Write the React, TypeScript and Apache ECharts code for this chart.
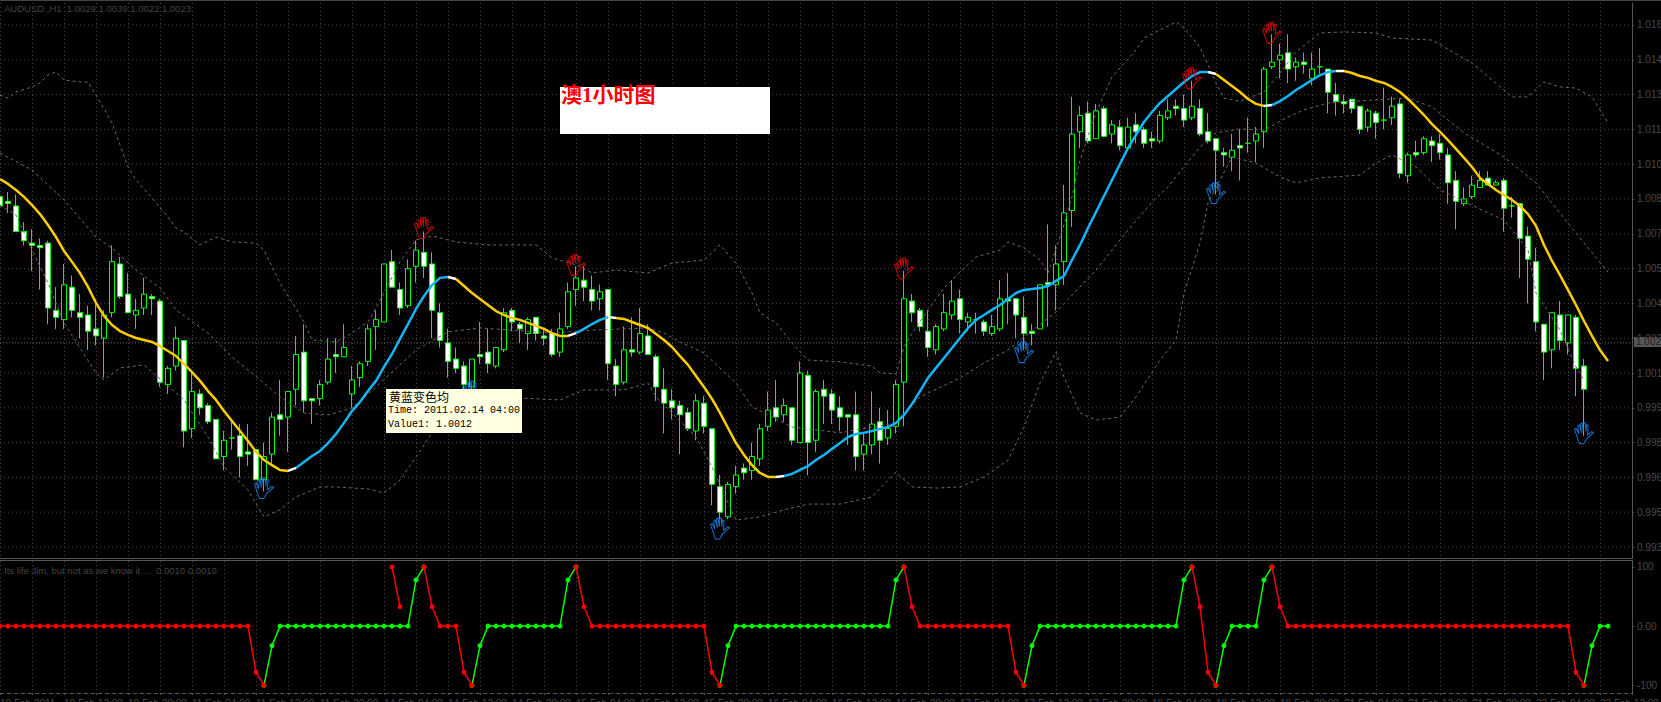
import React, { useEffect, useRef } from "react";
import * as echarts from "echarts";

// ---------- price axis ----------
const yTicks = [0.9935,0.995,0.9965,0.998,0.9995,1.001,1.0025,1.004,1.0055,1.007,1.0085,1.01,1.0115,1.013,1.0145,1.016];
const lastPrice = 1.0023;

// ---------- time axis (one label every 8 hourly bars) ----------
const timeLabels = ["10 Feb 2011","10 Feb 12:00","10 Feb 20:00","11 Feb 04:00","11 Feb 12:00","11 Feb 20:00","14 Feb 04:00","14 Feb 12:00","14 Feb 20:00","15 Feb 04:00","15 Feb 12:00","15 Feb 20:00","16 Feb 04:00","16 Feb 12:00","16 Feb 20:00","17 Feb 04:00","17 Feb 12:00","17 Feb 20:00","18 Feb 04:00","18 Feb 12:00","18 Feb 20:00","21 Feb 04:00","21 Feb 12:00","21 Feb 20:00","22 Feb 04:00","22 Feb 12:00"];

// ---------- candles ----------
const opens = [1.0086,1.0084,1.0082,1.0071,1.0066,1.0065,1.0066,1.0037,1.0033,1.0047,
1.0036,1.0035,1.0029,1.0025,1.0036,1.0057,1.0044,1.0035,1.0038,1.0043,
1.0041,1.0005,1.0013,1.0024,0.9986,1.0001,0.9996,0.999,0.9974,0.9982,
0.9983,0.9976,0.9977,0.9964,0.9975,0.9992,0.9991,1.0003,1.0019,0.9999,
0.9999,1.0006,1.0018,1.0017,1.0001,1.0008,1.0015,1.003,1.0032,1.0058,
1.0046,1.0039,1.0056,1.0062,1.0057,1.0036,1.0023,1.0016,1.0013,1.0004,
1.0018,1.0019,1.0013,1.002,1.0037,1.0031,1.0027,1.0034,1.0026,1.0027,
1.0019,1.003,1.0046,1.005,1.0046,1.0042,1.0046,1.0013,1.0006,1.002,
1.0019,1.0026,1.0017,1.0003,0.9998,0.9996,0.9993,0.9985,0.9997,0.9986,
0.9961,0.9948,0.9961,0.9969,0.9968,0.9973,0.9987,0.9995,0.9992,0.9995,
0.998,1.0009,0.9981,1.0003,1.0001,0.9995,0.9992,0.9992,0.9975,0.9979,
0.9989,0.9982,0.9987,1.0006,1.0041,1.0037,1.0028,1.002,1.0029,1.0035,
1.0042,1.0032,1.0033,1.0032,1.0027,1.0029,1.0042,1.0042,1.0034,1.0028,
1.0029,1.0049,1.0048,1.0058,1.008,1.0114,1.0122,1.0111,1.0124,1.0113,
1.0116,1.0107,1.0117,1.0115,1.0111,1.011,1.012,1.0125,1.0124,1.012,
1.0124,1.0114,1.0111,1.0105,1.0103,1.0108,1.0109,1.011,1.0114,1.0142,
1.0145,1.0148,1.0142,1.0144,1.0137,1.0142,1.0141,1.013,1.0127,1.0128,
1.0125,1.0116,1.0122,1.0119,1.012,1.0126,1.0095,1.0105,1.0105,1.011,
1.0109,1.0104,1.0093,1.0083,1.0086,1.009,1.0094,1.0091,1.0093,1.0082,
1.0083,1.0069,1.0058,1.0031,1.002,1.0035,1.0023,1.0034,1.0013];
const highs = [1.0087,1.0088,1.0087,1.0075,1.0072,1.0068,1.0067,1.0047,1.0057,1.0052,
1.0044,1.0039,1.0042,1.0037,1.0065,1.006,1.0053,1.0042,1.0051,1.0044,
1.0042,1.0013,1.003,1.0024,1.0011,1.0003,0.9997,0.999,0.9985,0.999,
0.9988,0.9988,0.9977,0.998,0.9993,1.0007,1.0002,1.0026,1.0031,0.9999,
1.0007,1.0025,1.0025,1.0031,1.0013,1.0015,1.0031,1.0037,1.0057,1.0063,
1.0049,1.0059,1.0067,1.0071,1.0062,1.004,1.0029,1.0021,1.0015,1.0016,
1.0032,1.0029,1.0021,1.0038,1.0038,1.0032,1.0034,1.0034,1.0029,1.0029,
1.0036,1.0049,1.0056,1.0056,1.0052,1.0048,1.0046,1.0016,1.003,1.0034,
1.0038,1.0031,1.0018,1.0012,1.0003,0.9998,0.9995,1.0001,1.0,0.9986,
0.9966,0.9963,0.997,0.9971,0.998,0.9988,1.0002,1.0007,0.9999,0.9995,
1.0015,1.0011,1.0003,1.0007,1.0003,1.0,0.9992,1.0002,0.9984,1.0002,
0.9995,0.9994,1.0007,1.0054,1.0044,1.0038,1.0037,1.0031,1.0044,1.005,
1.0046,1.0036,1.0036,1.0033,1.0035,1.005,1.0053,1.0042,1.0043,1.0031,
1.0048,1.0074,1.0065,1.0091,1.0129,1.0125,1.0127,1.0126,1.0125,1.0119,
1.0119,1.012,1.0122,1.0116,1.0114,1.0123,1.0128,1.0128,1.013,1.0136,
1.0128,1.0122,1.0111,1.0107,1.0113,1.0115,1.012,1.0116,1.0142,1.0156,
1.0152,1.0156,1.0146,1.0148,1.0148,1.015,1.0141,1.0135,1.013,1.0128,
1.0125,1.0124,1.0123,1.0133,1.0129,1.0128,1.0105,1.011,1.0112,1.0112,
1.0113,1.0107,1.0097,1.009,1.0095,1.0097,1.0097,1.0093,1.0094,1.0086,
1.0083,1.0073,1.0064,1.0031,1.0036,1.0041,1.0035,1.0035,1.0016];
const lows = [1.0072,1.0079,1.0071,1.0065,1.0054,1.0046,1.0031,1.0029,1.0029,1.0034,
1.0025,1.002,1.0022,1.0008,1.0034,1.0042,1.0036,1.0029,1.0035,1.0035,
1.0004,1.0001,1.0011,0.9978,0.9982,0.9992,0.9988,0.9973,0.9968,0.9977,
0.9965,0.997,0.9964,0.9959,0.997,0.9983,0.9976,0.9996,0.9993,0.9988,
0.9996,1.0005,1.001,1.0017,0.9995,1.0004,1.0013,1.002,1.0032,1.0047,
1.0035,1.0038,1.0049,1.0051,1.0025,1.0021,1.0008,1.001,1.0003,1.0003,
1.0014,1.001,1.0012,1.0019,1.0028,1.0023,1.002,1.0024,1.0022,1.0017,
1.0017,1.0029,1.0039,1.0041,1.0037,1.0037,1.0007,1.0,1.0005,1.0017,
1.0018,1.0018,0.9998,0.9984,0.999,0.9975,0.9985,0.9981,0.9984,0.9953,
0.9947,0.9947,0.9958,0.9964,0.9964,0.997,0.9985,0.9989,0.9989,0.9979,
0.998,0.9966,0.9976,0.9988,0.9988,0.9985,0.9979,0.9968,0.9968,0.9975,
0.9971,0.9979,0.9984,0.9987,1.0032,1.0028,1.0017,1.0018,1.0028,1.0033,
1.0027,1.0028,1.0027,1.0026,1.0026,1.0028,1.0031,1.0025,1.002,1.0022,
1.0029,1.003,1.0037,1.0048,1.0073,1.0107,1.0109,1.0111,1.0112,1.0109,
1.0106,1.0107,1.0109,1.0107,1.0107,1.0109,1.0119,1.0121,1.0116,1.0119,
1.0112,1.0109,1.0087,1.0099,1.0097,1.0093,1.0105,1.0101,1.0107,1.0141,
1.0137,1.0135,1.0136,1.0139,1.0134,1.0139,1.0122,1.0121,1.0122,1.0122,
1.0113,1.0114,1.0111,1.0115,1.0117,1.0094,1.0092,1.0103,1.0104,1.0101,
1.0102,1.0083,1.0072,1.0082,1.0085,1.009,1.0091,1.0091,1.0071,1.0077,
1.0051,1.004,1.0028,1.0007,1.0012,1.002,1.0018,1.0,0.9983];
const closes = [1.0082,1.0083,1.0071,1.0067,1.0065,1.0064,1.0038,1.0034,1.0048,1.0037,
1.0034,1.0028,1.0026,1.0035,1.0058,1.0043,1.0036,1.0037,1.0044,1.0042,
1.0006,1.0012,1.0025,0.9985,1.0002,0.9995,0.9989,0.9973,0.9981,0.9982,
0.9974,0.9975,0.9964,0.9974,0.9991,0.999,1.0002,1.0018,0.9998,0.9998,
1.0005,1.0016,1.0017,1.0021,1.0007,1.0014,1.0029,1.0033,1.0057,1.0047,
1.0038,1.0055,1.0063,1.0056,1.0037,1.0024,1.0015,1.0012,1.0005,1.0016,
1.0017,1.0014,1.0021,1.0036,1.0032,1.0029,1.0033,1.0027,1.0025,1.0018,
1.0029,1.0045,1.0051,1.0047,1.0041,1.0045,1.0014,1.0005,1.002,1.0019,
1.0027,1.0018,1.0004,0.9997,0.9995,0.9992,0.9986,0.9998,0.9987,0.9962,
0.995,0.9962,0.9966,0.9967,0.9974,0.9986,0.9994,0.9991,0.9996,0.9981,
1.001,0.998,1.0002,1.0,0.9994,0.9991,0.9991,0.9974,0.9979,0.9988,
0.9981,0.9986,1.0005,1.0042,1.0036,1.003,1.0021,1.003,1.0036,1.0041,
1.0033,1.0034,1.0033,1.0028,1.003,1.0042,1.0041,1.0035,1.0027,1.0027,
1.0048,1.0048,1.0057,1.0079,1.0113,1.0121,1.011,1.0123,1.0112,1.0117,
1.0108,1.0116,1.0114,1.0109,1.011,1.0121,1.0123,1.0124,1.0119,1.0125,
1.0113,1.011,1.0106,1.0104,1.0106,1.0107,1.0109,1.0113,1.0141,1.0144,
1.0147,1.0141,1.0144,1.0143,1.0141,1.0142,1.0131,1.0127,1.0126,1.0124,
1.0115,1.0123,1.0118,1.0119,1.0125,1.0096,1.0104,1.0104,1.0111,1.0108,
1.0105,1.0092,1.0084,1.0085,1.0091,1.0093,1.0091,1.0092,1.0081,1.0082,
1.0068,1.0059,1.0032,1.0019,1.0036,1.0024,1.0035,1.0012,1.0003];

// ---------- colour-changing moving average ("黄蓝变色均") ----------
const maValues = [1.00936,1.00915,1.00889,1.00859,1.00824,1.00785,1.00738,1.00686,1.00626,1.00579,
1.00531,1.00471,1.00402,1.00346,1.00307,1.00281,1.00264,1.00251,1.00242,1.00234,
1.00216,1.00195,1.00173,1.00139,1.00104,1.00066,1.00022,0.99984,0.99936,0.99893,
0.9985,0.99807,0.9976,0.99725,0.99703,0.99682,0.99678,0.99691,0.99716,0.99742,
0.99764,0.99798,0.99837,0.99885,0.99936,0.99975,1.00022,1.00066,1.00126,1.00182,
1.00247,1.00311,1.00376,1.00432,1.00479,1.0051,1.00514,1.00505,1.00475,1.00445,
1.00419,1.00393,1.00367,1.0035,1.00337,1.00329,1.00316,1.00303,1.0029,1.00272,
1.0026,1.0026,1.00272,1.0029,1.00311,1.00329,1.00341,1.00337,1.00333,1.0032,
1.00307,1.00294,1.00268,1.00242,1.00212,1.00173,1.00135,1.00087,1.0004,0.99988,
0.99928,0.99863,0.99798,0.99747,0.99703,0.99669,0.99652,0.99652,0.99656,0.99665,
0.99682,0.99699,0.99725,0.99747,0.99773,0.99798,0.99824,0.99837,0.99842,0.9985,
0.99859,0.99867,0.99885,0.99919,0.99966,1.00022,1.00079,1.00122,1.00165,1.00208,
1.00251,1.00294,1.00329,1.0035,1.00372,1.00393,1.00419,1.00445,1.00458,1.00462,
1.00466,1.00475,1.00497,1.00518,1.00587,1.00652,1.00725,1.00794,1.00863,1.00932,
1.01001,1.0107,1.01126,1.01182,1.01225,1.01264,1.01294,1.01324,1.01354,1.0138,
1.01397,1.01397,1.01389,1.01363,1.01337,1.01311,1.01281,1.0126,1.01251,1.01255,
1.01272,1.01294,1.0132,1.01341,1.01363,1.01384,1.01397,1.01402,1.01402,1.01393,
1.0138,1.01372,1.01359,1.0135,1.01333,1.01311,1.01281,1.01247,1.01212,1.01173,
1.01139,1.01104,1.01066,1.01027,1.00988,1.00941,1.00915,1.00889,1.00867,1.00846,
1.0082,1.00785,1.00734,1.00652,1.00583,1.00522,1.00458,1.00393,1.00324,1.0026,
1.00199,1.00152];
// bar ranges [from, to] of each colour
const maYellowRuns = [[0,36],[57,71],[77,97],[152,158],[168,201]];
const maWhiteRuns = [[36,37],[56,57],[71,72],[76,77],[97,98],[151,152],[158,159],[167,168]];
const maBlueRuns = [[37,56],[72,76],[98,151],[159,167]];

// ---------- dashed bands: read at the listed bars ----------
const upperBars = [0,1,2,4,5,6,7,8,10,11,12,14,16,17,19,21,22,23,25,27,29,32,33,35,38,39,42,44,46,48,50,52,54,57,61,67,69,72,74,77,81,84,88,90,92,94,95,97,99,101,105,109,110,112,113,114,116,118,120,122,125,126,128,130,131,133,134,135,137,139,142,143,147,148,150,151,152,153,155,158,160,162,165,168,172,174,179,184,189,191,193,195,197,199,201];
const upperBand = [1.01298,1.01285,1.01311,1.01333,1.0135,1.01384,1.01397,1.01363,1.01354,1.01354,1.01298,1.01178,1.00988,1.00932,1.00854,1.00772,1.00725,1.00708,1.00652,1.00686,1.00665,1.0066,1.0063,1.00488,1.0032,1.00242,1.00234,1.00272,1.0032,1.00445,1.0058,1.00673,1.00691,1.00665,1.00652,1.00652,1.00596,1.00566,1.00531,1.00544,1.00531,1.00574,1.00587,1.00652,1.00574,1.00445,1.00359,1.00316,1.00229,1.00156,1.00148,1.0013,1.001,1.00096,1.00212,1.00272,1.00372,1.00466,1.00535,1.006,1.0063,1.00665,1.00639,1.00587,1.00531,1.00738,1.00859,1.01018,1.01221,1.01376,1.01492,1.01544,1.01613,1.01587,1.01505,1.01428,1.0135,1.01285,1.01272,1.01311,1.01393,1.01484,1.01566,1.0157,1.01566,1.01544,1.01535,1.01436,1.0129,1.0129,1.01354,1.01333,1.01328,1.0129,1.01178];
const middleBars = [0,4,8,12,14,17,20,22,26,29,33,35,38,41,44,47,52,56,60,64,69,74,81,83,85,88,92,94,99,105,112,115,120,123,126,132,137,141,144,146,150,152,155,158,161,163,166,172,176,179,183,188,192,197,201];
const middleBand = [1.01048,1.00975,1.00846,1.00686,1.00639,1.00544,1.00466,1.00372,1.00272,1.00169,1.00057,0.99997,0.99928,0.99919,0.99949,1.0004,1.00199,1.00277,1.00294,1.00285,1.00272,1.00285,1.00294,1.00272,1.00234,1.00186,1.00057,0.99954,0.99867,0.99842,0.99885,0.99997,1.00079,1.00143,1.00199,1.00363,1.00544,1.00716,1.00837,1.00902,1.01074,1.01135,1.01152,1.01147,1.01203,1.01234,1.01264,1.01277,1.01285,1.01247,1.01135,1.01031,1.00919,1.00703,1.00535];
const lowerBars = [0,2,4,6,8,12,13,15,18,19,23,26,28,31,33,35,37,40,42,46,48,50,52,54,57,65,70,73,78,81,82,87,89,92,95,98,101,105,109,112,114,117,120,123,126,128,130,132,133,135,137,140,142,145,147,148,150,151,154,157,160,162,165,170,172,174,177,180,186,188,191,192,195,197,198];
const lowerBand = [1.00824,1.00781,1.0063,1.00488,1.00316,1.001,1.0007,1.00122,1.00135,1.00104,0.99984,0.99824,0.99695,0.99596,0.9948,0.9951,0.99566,0.99609,0.99609,0.996,0.99583,0.99639,0.99738,0.99842,0.99941,0.99992,0.99984,1.00027,1.00027,1.00057,0.99997,0.99824,0.99695,0.99466,0.9948,0.9951,0.99535,0.99535,0.99566,0.99673,0.99609,0.99604,0.99609,0.99652,0.99725,0.99867,1.00057,1.00191,1.00083,0.99928,0.99897,0.9991,0.99997,1.00156,1.00242,1.00445,1.0066,1.00833,1.01031,1.01005,1.00945,1.00919,1.00941,1.00953,1.01005,1.0104,1.00988,1.00889,1.0079,1.0076,1.0063,1.00445,1.00285,1.00126,1.0007];

// ---------- reversal hands ----------
const redHandBars = [53,72,113,149,159];
const redHandPrices = [1.00725,1.00566,1.0055,1.0137,1.01566];
const blueHandBars = [33,59,90,128,152,198];
const blueHandPrices = [0.99604,1.0002,0.9943,1.0019,1.00876,0.9984];

// ---------- lower oscillator ----------
const oscValues = [0,0,0,0,0,0,0,0,0,0,0,0,0,0,0,0,0,0,0,0,0,0,0,0,0,0,0,0,0,0,0,0,
-78,-100,-33,
0,0,0,0,0,0,0,0,0,0,0,0,0,0,0,0,0,
78,100,33,0,0,0,-78,-100,-33,
0,0,0,0,0,0,0,0,0,0,
78,100,33,
0,0,0,0,0,0,0,0,0,0,0,0,0,0,0,
-78,-100,-33,
0,0,0,0,0,0,0,0,0,0,0,0,0,0,0,0,0,0,0,0,
78,100,33,
0,0,0,0,0,0,0,0,0,0,0,0,
-78,-100,-33,
0,0,0,0,0,0,0,0,0,0,0,0,0,0,0,0,0,0,
78,100,33,-78,-100,-33,
0,0,0,0,
78,100,33,
0,0,0,0,0,0,0,0,0,0,0,0,0,0,0,0,0,0,0,0,0,0,0,0,0,0,0,0,0,0,0,0,0,0,0,0,
-78,-100,-33,0,0];
const oscRedRuns = [[0,33],[53,59],[72,90],[113,128],[149,152],[159,198]];
const oscGreenRuns = [[33,53],[59,72],[90,113],[128,149],[152,159],[198,201]];
const oscRedExtraBars = [49,50];
const oscRedExtraValues = [100,33];

const handPath =
  "path://M5 20 L9 20 L12 15 L18 10 L16.5 9 L12.5 12 L13 3 L11.5 3 L11 9 L10.5 1 L9 1 L8.7 9 L7.5 1 L6 2 L7 10 L5 3 L3.5 4 L4.5 11 L2 6 L0.5 7 L3 14 Z";

const BAR_SLOTS = 205;
const categories = Array.from({ length: BAR_SLOTS }, (_, i) => (i % 8 === 0 ? timeLabels[i / 8] ?? "" : ""));

function pick(values: number[], runs: number[][]) {
  return values.map((v, i) => (runs.some(([a, b]) => i >= a && i <= b) ? v : null));
}
const pairs = (xs: number[], ys: number[]) => xs.map((x, i) => [x, ys[i]]);

const DIM = "#4a4a4a";
const GRID = "#444444";
const SANS = "'Liberation Sans', Arial, sans-serif";

export default function App() {
  const ref = useRef<HTMLDivElement>(null);
  useEffect(() => {
    document.body.style.margin = "0";
    document.body.style.background = "#000";
    const chart = echarts.init(ref.current!, undefined, { renderer: "svg" });

    const hLine = (v: number, color: string, dash: number[]) => ({
      name: "h" + v, type: "line", xAxisIndex: 0, yAxisIndex: 0, z: 1, symbol: "none", silent: true,
      data: [[0, v], [BAR_SLOTS - 1, v]],
      lineStyle: { color, width: 1, type: dash },
    });
    const bandSeries = (name: string, bars: number[], vals: number[]) => ({
      name, type: "line", xAxisIndex: 0, yAxisIndex: 0, z: 4,
      data: pairs(bars, vals), showSymbol: false, symbol: "none",
      lineStyle: { color: "#6a6a6a", width: 1, type: [3, 3] },
    });
    const maSeries = (name: string, runs: number[][], color: string, z: number) => ({
      name, type: "line", xAxisIndex: 0, yAxisIndex: 0, z,
      data: pick(maValues, runs), showSymbol: false, symbol: "none", connectNulls: false,
      lineStyle: { color, width: 2.5 },
    });
    const handSeries = (name: string, bars: number[], vals: number[], color: string) => ({
      name, type: "scatter", xAxisIndex: 0, yAxisIndex: 0, z: 6,
      data: pairs(bars, vals), symbol: handPath, symbolSize: [19, 21],
      itemStyle: { color: "transparent", borderColor: color, borderWidth: 1 },
    });
    const oscSeries = (name: string, data: any[], color: string, z: number) => ({
      name, type: "line", xAxisIndex: 1, yAxisIndex: 1, z, data,
      symbol: "circle", symbolSize: 5, showSymbol: true, showAllSymbol: true, connectNulls: false,
      lineStyle: { color, width: 1.5 }, itemStyle: { color },
    });

    const xBase = {
      type: "category", data: categories, boundaryGap: false,
      splitLine: { show: true, interval: (i: number) => i % 4 === 0, lineStyle: { color: GRID, type: [1, 3], width: 1 } },
    };
    const option: any = {
      animation: false,
      backgroundColor: "#000",
      grid: [
        { left: 0, right: 29, top: 3, bottom: 144, containLabel: false, outerBoundsMode: "none" },
        { left: 0, right: 29, top: 561, bottom: 9, containLabel: false, outerBoundsMode: "none" },
      ],
      xAxis: [
        { ...xBase, gridIndex: 0, axisLine: { show: false }, axisTick: { show: false }, axisLabel: { show: false } },
        {
          ...xBase, gridIndex: 1,
          axisLine: { show: true, onZero: false, lineStyle: { color: "#555", type: [4, 3] } },
          axisTick: { show: true, length: 2, interval: (i: number) => i % 4 === 0, lineStyle: { color: "#555" } },
          axisLabel: {
            show: true, interval: (i: number) => i % 8 === 0, color: DIM, fontFamily: SANS, fontSize: 10,
            align: "left", verticalAlign: "top", margin: 5, hideOverlap: false,
            formatter: (v: string) => v,
          },
        },
      ],
      yAxis: [
        {
          type: "value", gridIndex: 0, position: "right", min: 0.993026, max: 1.016948, scale: true,
          splitLine: { show: false },
          axisLine: { show: true, onZero: false, lineStyle: { color: "#555" } },
          axisTick: { show: true, length: 2, customValues: yTicks, lineStyle: { color: "#555" } },
          axisLabel: { show: true, customValues: yTicks, color: DIM, fontFamily: SANS, fontSize: 10, margin: 5, formatter: (v: number) => v.toFixed(4) },
        },
        {
          type: "value", gridIndex: 1, position: "right", min: -113, max: 110,
          splitLine: { show: false },
          axisLine: { show: true, onZero: false, lineStyle: { color: "#555" } },
          axisTick: { show: true, length: 2, customValues: [100, 0, -100], lineStyle: { color: "#555" } },
          axisLabel: {
            show: true, customValues: [100, 0, -100], color: DIM, fontFamily: SANS, fontSize: 10, margin: 5,
            formatter: (v: number) => (v === 0 ? "0.00" : String(v)),
          },
        },
      ],
      series: [
        ...yTicks.map((v) => hLine(v, GRID, [1, 3])),
        hLine(lastPrice, "#666", [1, 2]),
        {
          name: "AUDUSD", type: "candlestick", xAxisIndex: 0, yAxisIndex: 0, z: 3, barWidth: 5,
          data: opens.map((o, i) => [o, closes[i], lows[i], highs[i]]),
          itemStyle: { color: "#000", color0: "#fff", borderColor: "#00ff00", borderColor0: "#00ff00", borderWidth: 1 },
        },
        bandSeries("upper", upperBars, upperBand),
        bandSeries("middle", middleBars, middleBand),
        bandSeries("lower", lowerBars, lowerBand),
        maSeries("maBlue", maBlueRuns, "#13b5f7", 5),
        maSeries("maYellow", maYellowRuns, "#ffcc00", 5),
        maSeries("maWhite", maWhiteRuns, "#ffffff", 5),
        handSeries("redHand", redHandBars, redHandPrices, "#ff0000"),
        handSeries("blueHand", blueHandBars, blueHandPrices, "#1e90ff"),
        oscSeries("oscGreen", pick(oscValues, oscGreenRuns), "#00ff00", 3),
        oscSeries("oscRed", pick(oscValues, oscRedRuns), "#ff0000", 4),
        oscSeries("oscRedExtra", pairs(oscRedExtraBars, oscRedExtraValues), "#ff0000", 4),
      ],
      graphic: [
        { type: "rect", z: 50, shape: { x: 0, y: 0, width: 1661, height: 1 }, style: { fill: "#444" } },
        { type: "rect", z: 50, shape: { x: 0, y: 558, width: 1633, height: 1 }, style: { fill: "#555" } },
        { type: "rect", z: 50, shape: { x: 0, y: 560, width: 1633, height: 1 }, style: { fill: "#555" } },
        { type: "text", z: 50, style: { text: "AUDUSD.,H1  1.0029 1.0039 1.0022 1.0023", x: 4, y: 3, fill: "#444", font: `9.5px ${SANS}` } },
        { type: "text", z: 50, style: { text: "Its life Jim, but not as we know it ...  0.0010 0.0010", x: 4, y: 565, fill: "#444", font: `9.5px ${SANS}` } },
        // last price tag
        { type: "rect", z: 50, shape: { x: 1634, y: 337, width: 27, height: 10 }, style: { fill: "#555" } },
        { type: "text", z: 51, style: { text: "1.0023", x: 1636, y: 336, fill: "#222", font: `10px ${SANS}` } },
        // caption box
        { type: "rect", z: 50, shape: { x: 560, y: 87, width: 210, height: 47 }, style: { fill: "#fff" } },
        { type: "text", z: 51, style: { text: "澳1小时图", x: 561, y: 85, fill: "#ff0000", font: "bold 21px 'Liberation Serif', 'Noto Sans CJK SC', serif" } },
        // hover note
        { type: "rect", z: 50, shape: { x: 386, y: 389, width: 136, height: 44 }, style: { fill: "#ffffe1" } },
        { type: "text", z: 51, style: { text: "黄蓝变色均", x: 389, y: 390, fill: "#000", font: "12px 'Noto Sans CJK SC', sans-serif" } },
        { type: "text", z: 51, style: { text: "Time: 2011.02.14 04:00", x: 388, y: 405, fill: "#000", font: "10px 'Liberation Mono', monospace" } },
        { type: "text", z: 51, style: { text: "Value1: 1.0012", x: 388, y: 419, fill: "#000", font: "10px 'Liberation Mono', monospace" } },
      ],
    };
    chart.setOption(option);
    return () => chart.dispose();
  }, []);
  return <div ref={ref} style={{ position: "fixed", left: 0, top: 0, width: 1661, height: 702, background: "#000" }} />;
}
